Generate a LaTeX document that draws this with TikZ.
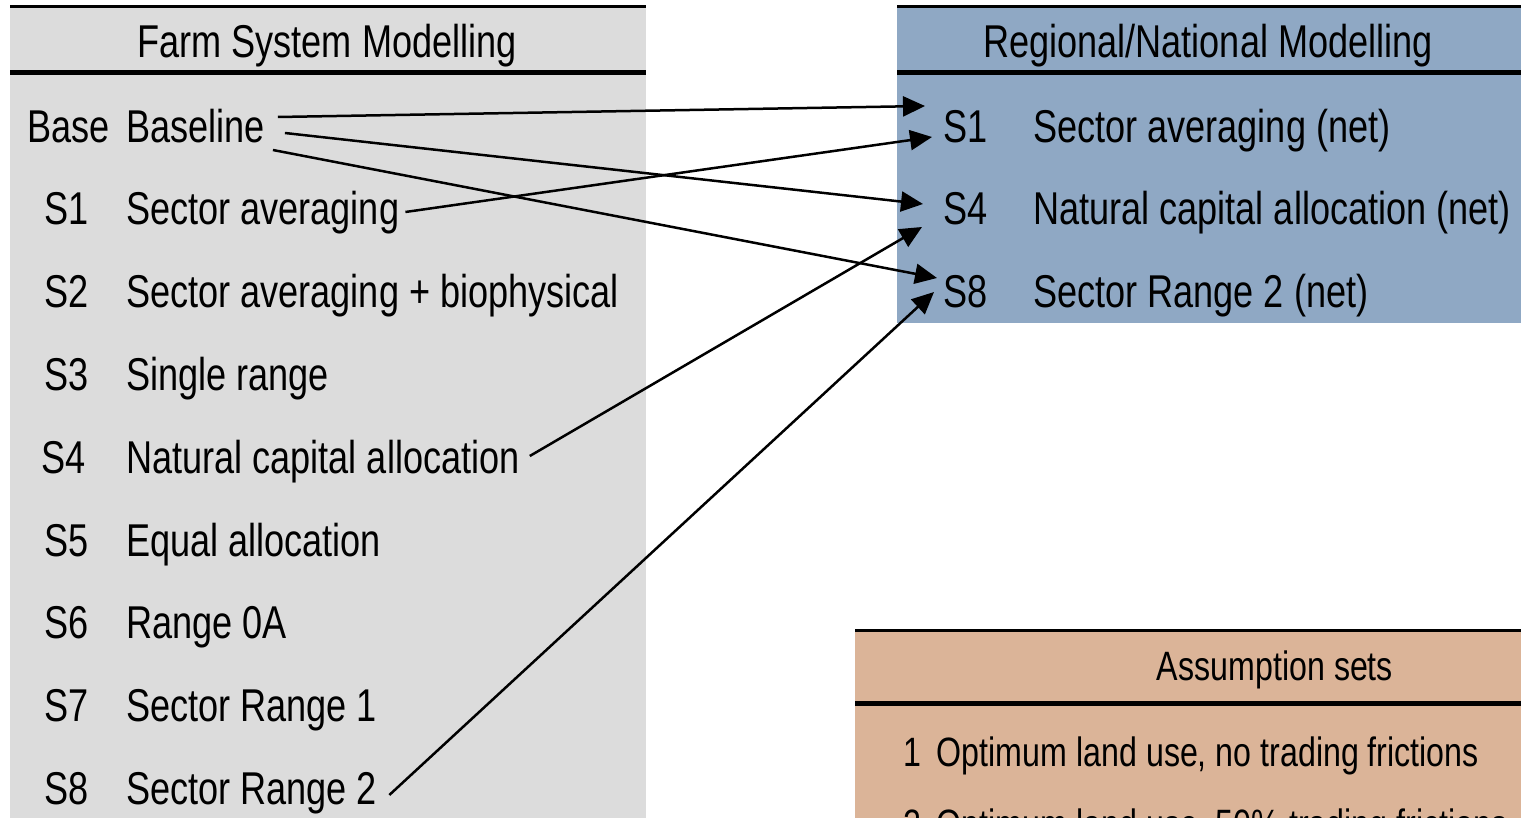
\documentclass[tikz,border=0pt]{standalone}
\usepackage{fontspec}
\setmainfont{Liberation Sans}[FakeStretch=0.785]
\usetikzlibrary{arrows.meta}
\definecolor{panelgray}{HTML}{DCDCDC}
\definecolor{panelblue}{HTML}{8FA8C4}
\definecolor{paneltan}{HTML}{DBB498}
\tikzset{
  txt/.style={inner sep=0pt, anchor=base west, font=\fontsize{46}{55}\selectfont},
  hdr/.style={inner sep=0pt, anchor=base, font=\fontsize{46}{55}\selectfont},
  stxt/.style={inner sep=0pt, anchor=base west, font=\fontsize{41}{49}\selectfont},
  shdr/.style={inner sep=0pt, anchor=base, font=\fontsize{41}{49}\selectfont},
  thinrule/.style={line width=3pt},
  thickrule/.style={line width=5pt},
  link/.style={line width=2.5pt, -{Triangle[length=22pt,width=20pt]}},
}
\begin{document}
\begin{tikzpicture}[x=1pt,y=-1pt]
\useasboundingbox (0,0) rectangle (1521,818);
\clip (0,0) rectangle (1521,818);
% panels
\fill[panelgray] (10,7) rectangle (646,830);
\draw[thinrule] (10,7) -- (646,7);
\draw[thickrule] (10,73) -- (646,73);
\fill[panelblue] (897,7) rectangle (1530,323);
\draw[thinrule] (897,7) -- (1530,7);
\draw[thickrule] (897,73) -- (1530,73);
\fill[paneltan] (855,630) rectangle (1530,830);
\draw[thinrule] (855,630) -- (1530,630);
\draw[thickrule] (855,703) -- (1530,703);
% left panel texts
\node[hdr] (fhead) at (327,58) {Farm System Modelling};
\node[txt] (basel) at (27,143) {Base};
\node[txt] (based) at (126,143) {Baseline};
\node[txt] (s1l) at (44,225) {S1};
\node[txt] (s1d) at (126,225) {Sector averaging};
\node[txt] (s2l) at (44,308) {S2};
\node[txt] (s2d) at (126,308) {Sector averaging + biophysical};
\node[txt] (s3l) at (44,390) {S3};
\node[txt] (s3d) at (126,390) {Single range};
\node[txt] (s4l) at (41,473) {S4};
\node[txt] (s4d) at (126,473) {Natural capital allocation};
\node[txt] (s5l) at (44,556) {S5};
\node[txt] (s5d) at (126,556) {Equal allocation};
\node[txt] (s6l) at (44,638) {S6};
\node[txt] (s6d) at (126,638) {Range 0A};
\node[txt] (s7l) at (44,721) {S7};
\node[txt] (s7d) at (126,721) {Sector Range 1};
\node[txt] (s8l) at (44,804) {S8};
\node[txt] (s8d) at (126,804) {Sector Range 2};
% right panel texts
\node[hdr] (rhead) at (1208,58) {Regional/National Modelling};
\node[txt] (r1l) at (943,143) {S1};
\node[txt] (r1d) at (1033,143) {Sector averaging (net)};
\node[txt] (r4l) at (943,225) {S4};
\node[txt] (r4d) at (1033,225) {Natural capital allocation (net)};
\node[txt] (r8l) at (943,308) {S8};
\node[txt] (r8d) at (1033,308) {Sector Range 2 (net)};
% assumption sets
\node[shdr] (ahead) at (1275,680) {Assumption sets};
\node[stxt] (a1) at (903,766) {1 \,Optimum land use, no trading frictions};
\node[stxt] (a2) at (903,838) {2 \,Optimum land use, 50\% trading frictions};
% connectors
\draw[link] ([xshift=13pt,yshift=26pt]based.base east) -- ([xshift=-18pt,yshift=37pt]r1l.base west);
\draw[link] ([xshift=20pt,yshift=10pt]based.base east) -- ([xshift=-20pt,yshift=21pt]r4l.base west);
\draw[link] ([xshift=8pt,yshift=-7pt]based.base east) -- ([xshift=-6pt,yshift=30pt]r8l.base west);
\draw[link] ([xshift=6pt,yshift=13pt]s1d.base east) -- ([xshift=-11pt,yshift=6pt]r1l.base west);
\draw[link] ([xshift=10pt,yshift=17pt]s4d.base east) -- ([xshift=-21pt,yshift=-2pt]r4l.base west);
\draw[link] ([xshift=12pt,yshift=9pt]s8d.base east) -- ([xshift=-9pt,yshift=16pt]r8l.base west);
\end{tikzpicture}
\end{document}
